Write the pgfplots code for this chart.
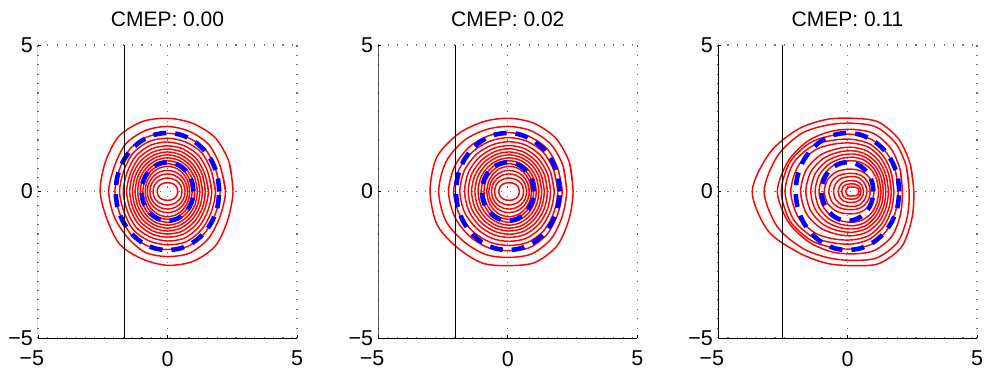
\documentclass[border=0pt]{standalone}
\usepackage{fontspec}
\setmainfont{Liberation Sans}
\usepackage{pgfplots}
\usepackage{pgfplotstable}
\pgfplotsset{compat=1.18}
\newcommand\fs{\fontsize{21.5bp}{25bp}\selectfont}
\newcommand\ft{\fontsize{21bp}{25bp}\selectfont}

% Panel 1: polar radii (angle in degrees) of the contours, centre (0,0)
\pgfplotstableread{
a c1 c2 c3 c4 c5 c6 c7 c8 c9 c10 c11 c12 c13 c14 c15 c16 c17
0 2.53 2.24 2.03 1.85 1.71 1.58 1.46 1.35 1.25 1.15 1.05 0.95 0.86 0.78 0.68 0.56 0.40
22.5 2.58 2.21 2.01 1.83 1.69 1.56 1.46 1.35 1.25 1.15 1.05 0.95 0.86 0.77 0.67 0.55 0.385
45 2.60 2.26 2.05 1.87 1.72 1.58 1.47 1.35 1.25 1.15 1.05 0.95 0.86 0.75 0.64 0.51 0.35
67.5 2.52 2.22 2.00 1.83 1.69 1.57 1.46 1.35 1.25 1.15 1.05 0.95 0.86 0.73 0.61 0.47 0.315
90 2.50 2.22 1.99 1.82 1.69 1.56 1.45 1.35 1.25 1.15 1.05 0.95 0.86 0.72 0.60 0.46 0.30
112.5 2.58 2.25 2.02 1.85 1.71 1.58 1.46 1.35 1.25 1.15 1.05 0.95 0.86 0.73 0.61 0.47 0.315
135 2.66 2.29 2.05 1.87 1.72 1.59 1.47 1.36 1.25 1.15 1.05 0.95 0.86 0.75 0.64 0.51 0.35
157.5 2.60 2.22 2.00 1.83 1.69 1.56 1.46 1.35 1.25 1.15 1.05 0.95 0.86 0.77 0.67 0.55 0.385
180 2.60 2.27 2.03 1.85 1.71 1.58 1.46 1.35 1.25 1.15 1.05 0.95 0.86 0.78 0.68 0.56 0.40
202.5 2.52 2.23 1.99 1.82 1.69 1.56 1.45 1.35 1.25 1.15 1.05 0.95 0.86 0.77 0.67 0.55 0.385
225 2.58 2.20 2.03 1.86 1.72 1.58 1.47 1.36 1.25 1.15 1.05 0.95 0.86 0.75 0.64 0.51 0.35
247.5 2.50 2.25 2.01 1.83 1.69 1.57 1.46 1.35 1.25 1.15 1.05 0.95 0.86 0.73 0.61 0.47 0.315
270 2.52 2.22 1.98 1.82 1.69 1.56 1.45 1.35 1.25 1.15 1.05 0.95 0.86 0.72 0.60 0.46 0.30
292.5 2.58 2.27 2.03 1.86 1.72 1.58 1.47 1.35 1.25 1.15 1.05 0.95 0.86 0.73 0.61 0.47 0.315
315 2.62 2.25 2.02 1.85 1.71 1.58 1.46 1.35 1.25 1.15 1.05 0.95 0.86 0.75 0.64 0.51 0.35
337.5 2.52 2.20 2.00 1.83 1.69 1.56 1.46 1.35 1.25 1.15 1.05 0.95 0.86 0.77 0.67 0.55 0.385
360 2.53 2.24 2.03 1.85 1.71 1.58 1.46 1.35 1.25 1.15 1.05 0.95 0.86 0.78 0.68 0.56 0.40
382.5 2.58 2.21 2.01 1.83 1.69 1.56 1.46 1.35 1.25 1.15 1.05 0.95 0.86 0.77 0.67 0.55 0.385
}\tA

% Panel 2: centre (0.05,0)
\pgfplotstableread{
a c1 c2 c3 c4 c5 c6 c7 c8 c9 c10 c11 c12 c13 c14 c15 c16 c17
0 2.47 2.22 2.05 1.88 1.74 1.60 1.48 1.36 1.26 1.15 1.05 0.95 0.86 0.78 0.68 0.56 0.40
22.5 2.53 2.26 2.04 1.87 1.73 1.60 1.48 1.36 1.26 1.15 1.05 0.95 0.86 0.77 0.67 0.55 0.385
45 2.56 2.28 2.07 1.88 1.73 1.59 1.47 1.36 1.26 1.15 1.05 0.95 0.86 0.75 0.64 0.51 0.35
67.5 2.52 2.24 2.03 1.85 1.71 1.58 1.46 1.35 1.25 1.15 1.05 0.95 0.86 0.73 0.61 0.47 0.315
90 2.50 2.22 2.01 1.84 1.70 1.57 1.46 1.35 1.25 1.15 1.05 0.95 0.86 0.72 0.60 0.46 0.30
112.5 2.58 2.29 2.06 1.87 1.72 1.59 1.47 1.36 1.26 1.15 1.05 0.95 0.86 0.73 0.61 0.47 0.315
135 2.78 2.46 2.16 1.95 1.79 1.64 1.51 1.39 1.28 1.17 1.06 0.96 0.86 0.75 0.64 0.51 0.35
157.5 3.03 2.64 2.27 2.07 1.87 1.70 1.56 1.43 1.31 1.19 1.07 0.97 0.86 0.77 0.67 0.55 0.385
180 3.05 2.72 2.34 2.14 1.90 1.72 1.58 1.45 1.32 1.20 1.08 0.97 0.86 0.78 0.68 0.56 0.40
202.5 3.00 2.64 2.27 2.07 1.86 1.69 1.56 1.43 1.31 1.19 1.07 0.97 0.86 0.77 0.67 0.55 0.385
225 2.76 2.44 2.16 1.95 1.78 1.64 1.51 1.39 1.28 1.17 1.06 0.96 0.86 0.75 0.64 0.51 0.35
247.5 2.65 2.33 2.08 1.88 1.73 1.59 1.47 1.36 1.26 1.15 1.05 0.95 0.86 0.73 0.61 0.47 0.315
270 2.53 2.25 2.02 1.84 1.70 1.57 1.46 1.35 1.25 1.15 1.05 0.95 0.86 0.72 0.60 0.46 0.30
292.5 2.62 2.30 2.07 1.88 1.73 1.59 1.47 1.36 1.26 1.15 1.05 0.95 0.86 0.73 0.61 0.47 0.315
315 2.62 2.29 2.07 1.89 1.74 1.60 1.48 1.36 1.26 1.15 1.05 0.95 0.86 0.75 0.64 0.51 0.35
337.5 2.50 2.22 2.03 1.87 1.73 1.60 1.48 1.36 1.26 1.15 1.05 0.95 0.86 0.77 0.67 0.55 0.385
360 2.47 2.22 2.05 1.88 1.74 1.60 1.48 1.36 1.26 1.15 1.05 0.95 0.86 0.78 0.68 0.56 0.40
382.5 2.53 2.26 2.04 1.87 1.73 1.60 1.48 1.36 1.26 1.15 1.05 0.95 0.86 0.77 0.67 0.55 0.385
}\tB

% Panel 3: centre (0.2,0)
\pgfplotstableread{
a c1 c2 c3 c4 c5 c6 c7 c8 c9 c10 c11 c12 c13 c14 c15 c16 c17
0 2.36 2.18 1.92 1.76 1.59 1.49 1.38 1.28 1.18 1.09 1.00 0.82 0.68 0.55 0.42 0.32 0.24
22.5 2.41 2.24 1.98 1.79 1.62 1.51 1.40 1.30 1.20 1.10 1.01 0.81 0.67 0.54 0.41 0.31 0.23
45 2.52 2.34 2.08 1.86 1.69 1.57 1.45 1.34 1.23 1.13 1.03 0.79 0.65 0.53 0.40 0.29 0.20
67.5 2.57 2.38 2.14 1.92 1.75 1.63 1.49 1.37 1.27 1.16 1.04 0.77 0.63 0.52 0.38 0.27 0.16
90 2.50 2.33 2.12 1.95 1.78 1.65 1.51 1.39 1.28 1.17 1.05 0.76 0.62 0.51 0.37 0.26 0.15
112.5 2.66 2.46 2.22 2.07 1.90 1.76 1.58 1.45 1.33 1.21 1.09 0.81 0.66 0.54 0.40 0.28 0.17
135 3.00 2.80 2.44 2.34 2.20 2.02 1.76 1.60 1.45 1.31 1.18 0.93 0.77 0.63 0.47 0.34 0.21
157.5 3.46 3.15 2.70 2.62 2.49 2.28 1.94 1.75 1.57 1.41 1.26 1.05 0.88 0.71 0.53 0.40 0.25
180 3.88 3.42 2.91 2.76 2.61 2.39 2.01 1.81 1.62 1.45 1.30 1.10 0.92 0.74 0.56 0.42 0.27
202.5 3.53 3.15 2.70 2.62 2.48 2.28 1.94 1.75 1.57 1.41 1.26 1.05 0.88 0.71 0.53 0.40 0.25
225 2.95 2.74 2.42 2.33 2.19 2.02 1.76 1.60 1.45 1.31 1.18 0.93 0.77 0.63 0.47 0.34 0.21
247.5 2.65 2.45 2.22 2.07 1.90 1.76 1.58 1.45 1.33 1.21 1.09 0.81 0.66 0.54 0.40 0.28 0.17
270 2.53 2.35 2.13 1.96 1.79 1.65 1.51 1.39 1.28 1.17 1.05 0.76 0.62 0.51 0.37 0.26 0.15
292.5 2.66 2.45 2.18 1.94 1.75 1.63 1.49 1.37 1.27 1.16 1.04 0.77 0.63 0.52 0.38 0.27 0.16
315 2.67 2.45 2.15 1.87 1.69 1.57 1.45 1.34 1.23 1.13 1.03 0.79 0.65 0.53 0.40 0.29 0.20
337.5 2.47 2.28 2.00 1.79 1.62 1.51 1.40 1.30 1.20 1.10 1.01 0.81 0.67 0.54 0.41 0.31 0.23
360 2.36 2.18 1.92 1.76 1.59 1.49 1.38 1.28 1.18 1.09 1.00 0.82 0.68 0.55 0.42 0.32 0.24
382.5 2.41 2.24 1.98 1.79 1.62 1.51 1.40 1.30 1.20 1.10 1.01 0.81 0.67 0.54 0.41 0.31 0.23
}\tC

% reference circles (radius 1 and 2)
\pgfplotstableread{
a b1 b2
0 1 2
15 1 2
30 1 2
45 1 2
60 1 2
75 1 2
90 1 2
105 1 2
120 1 2
135 1 2
150 1 2
165 1 2
180 1 2
195 1 2
210 1 2
225 1 2
240 1 2
255 1 2
270 1 2
285 1 2
300 1 2
315 1 2
330 1 2
345 1 2
360 1 2
}\tR

\pgfplotsset{
  panel/.style={
    width=259bp, height=293bp, scale only axis,
    xmin=-5, xmax=5, ymin=-5, ymax=5,
    xtick={-5,0,5}, ytick={-5,0,5},
    xticklabels={{\llap{\textrm{−}}\textrm{5}},{\textrm{0}},{\textrm{5}}},
    yticklabels={{\textrm{−5}},{\textrm{0}},{\textrm{5}}},
    tick label style={font=\fs},
    xticklabel style={anchor=north, inner sep=0pt, yshift=-13bp},
    yticklabel style={anchor=east, inner sep=0pt, xshift=-5bp},
    grid=major,
    major grid style={black!55, line width=1.1bp, dash pattern=on 1.1bp off 8.3bp},
    axis line style={draw=none},
    tick pos=left, tick align=inside,
    major tick length=3bp, tick style={black, line width=0.8bp},
    every axis title/.style={at={(0.5,1)}, anchor=base, yshift=18bp, font=\ft},
    anchor=south west,
  },
  ctr/.style={red, line width=1.45bp, smooth, data cs=polar},
  ref/.style={blue, line width=4.6bp, dash pattern=on 13bp off 9bp, smooth, data cs=polar},
}

\begin{document}
\begin{tikzpicture}
% ---------- panel 1
\begin{axis}[panel, at={(0bp,0bp)}, title={CMEP: 0.00}]
\pgfplotsinvokeforeach{1,...,17}{
  \addplot[ctr] table[x=a, y=c#1] {\tA};
}
\addplot[ref] table[x=a, y=b1] {\tR};
\addplot[ref] table[x=a, y=b2] {\tR};
\addplot[black, line width=1bp] coordinates {(-1.65,-5) (-1.65,5)};
\addplot[black, line width=1bp] coordinates {(-5,5) (-5,-5) (5,-5)};
\end{axis}
% ---------- panel 2
\begin{axis}[panel, at={(340.3bp,0bp)}, title={CMEP: 0.02}]
\pgfplotsinvokeforeach{1,...,17}{
  \addplot[ctr, shift={(axis direction cs:0.05,0)}] table[x=a, y=c#1] {\tB};
}
\addplot[ref] table[x=a, y=b1] {\tR};
\addplot[ref] table[x=a, y=b2] {\tR};
\addplot[black, line width=1bp] coordinates {(-2.03,-5) (-2.03,5)};
\addplot[black, line width=1bp] coordinates {(-5,5) (-5,-5) (5,-5)};
\end{axis}
% ---------- panel 3
\begin{axis}[panel, at={(680bp,0bp)}, title={CMEP: 0.11}]
\pgfplotsinvokeforeach{1,...,17}{
  \addplot[ctr, shift={(axis direction cs:0.2,0)}] table[x=a, y=c#1] {\tC};
}
\addplot[ref] table[x=a, y=b1] {\tR};
\addplot[ref] table[x=a, y=b2] {\tR};
\addplot[black, line width=1bp] coordinates {(-2.51,-5) (-2.51,5)};
\addplot[black, line width=1bp] coordinates {(-5,5) (-5,-5) (5,-5)};
\end{axis}
\pgfresetboundingbox
\path[use as bounding box] (-38bp,-33bp) rectangle (946bp,338bp);
\end{tikzpicture}
\end{document}
